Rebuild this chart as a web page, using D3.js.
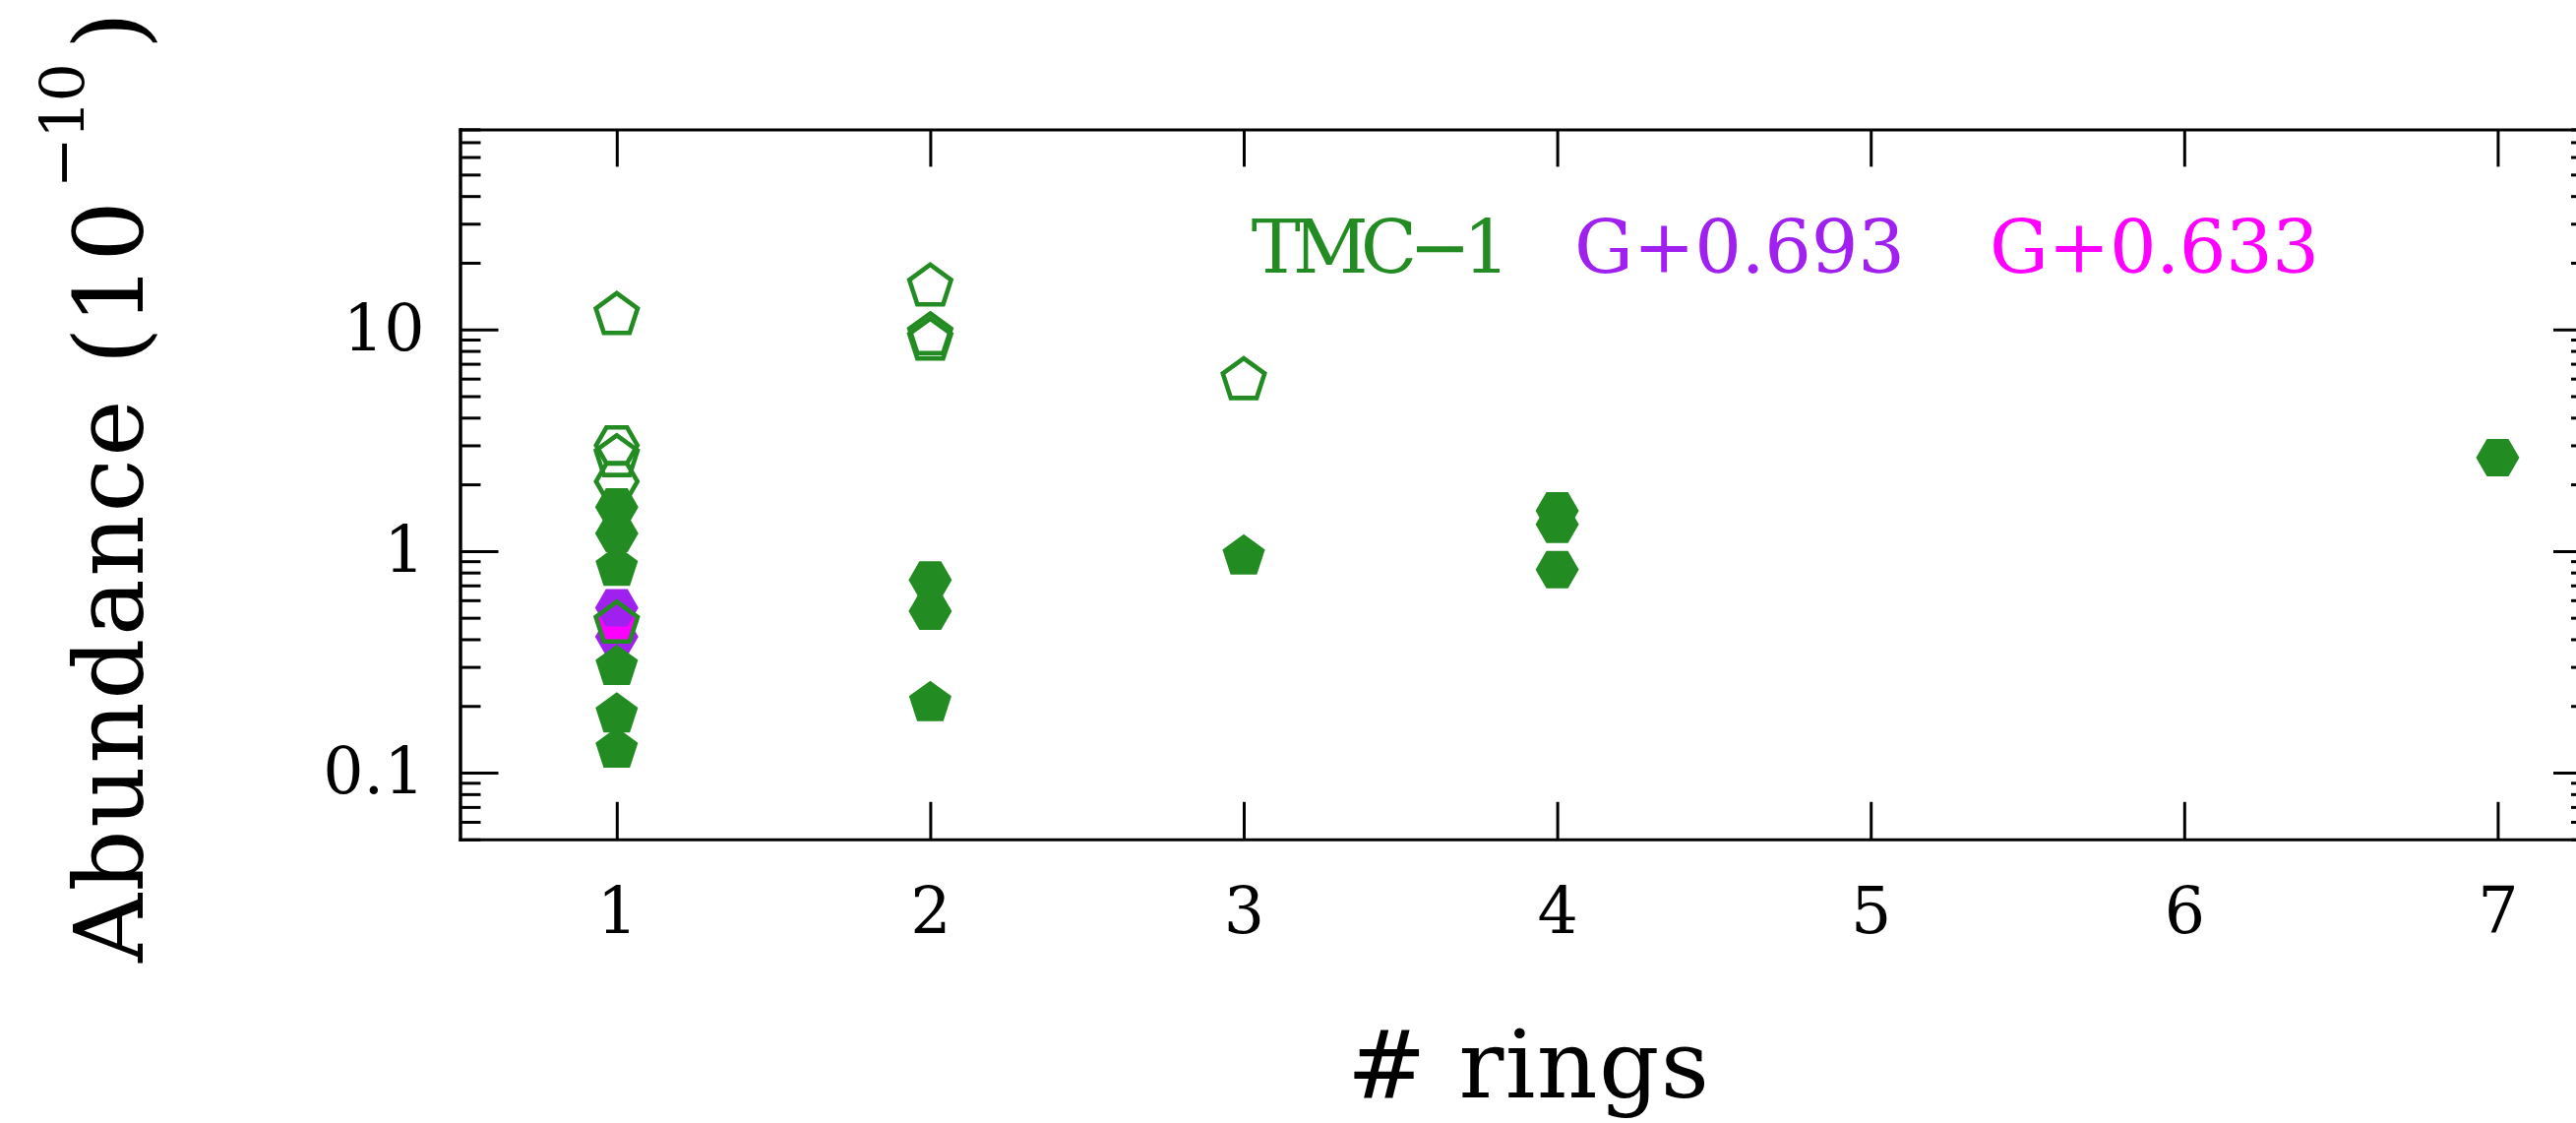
<!DOCTYPE html>
<html>
<head>
<meta charset="utf-8">
<script src="https://cdn.jsdelivr.net/npm/d3@7"></script>
<style>
  html, body { margin: 0; padding: 0; background: #fff; }
  svg { display: block; }
</style>
</head>
<body>
<script>
// ---- data -----------------------------------------------------------
// Number of rings (x axis categories)
const ringTicks = [1, 2, 3, 4, 5, 6, 7];
// Labelled decades of the abundance axis (units of 1e-10)
const abundanceTicks = [0.1, 1, 10];
const abundanceTickLabels = ["0.1", "1", "10"];

// TMC-1, open pentagons
const tmcOpenPentRings  = [1, 1, 1, 2, 2, 2, 3];
const tmcOpenPentValues = [11.6, 2.65, 0.47, 15.6, 9.4, 8.9, 5.9];
// TMC-1, open hexagons
const tmcOpenHexRings  = [1, 1];
const tmcOpenHexValues = [3.0, 2.06];
// TMC-1, filled pentagons
const tmcFillPentRings  = [1, 1, 1, 1, 2, 3];
const tmcFillPentValues = [0.84, 0.30, 0.183, 0.127, 0.206, 0.945];
// TMC-1, filled hexagons
const tmcFillHexRings  = [1, 1, 2, 2, 4, 4, 4, 7];
const tmcFillHexValues = [1.58, 1.2, 0.74, 0.535, 1.52, 1.32, 0.824, 2.64];
// G+0.693, filled hexagons
const g693Rings  = [1, 1];
const g693Values = [0.555, 0.41];
// G+0.633, filled hexagon
const g633Rings  = [1];
const g633Values = [0.48];

const sourceNames  = ["TMC\u22121", "G+0.693", "G+0.633"];
const sourceColors = ["#228B22", "#A020F0", "#FF00FF"];

// ---- layout ---------------------------------------------------------
const W = 2618, H = 1141;
const plot = { left: 467.5, right: 2634, top: 131.4, bottom: 852.8 };
const FONT = "'DejaVu Serif', 'Liberation Serif', serif";

const svg = d3.select("body").append("svg")
  .attr("width", W).attr("height", H)
  .attr("viewBox", `0 0 ${W} ${H}`);
svg.append("rect").attr("width", W).attr("height", H).attr("fill", "#fff");

const x = d3.scaleLinear().domain([0.5, 7.3]).range([plot.left, plot.right]);
const y = d3.scaleLog().domain([0.05, 80]).range([plot.bottom, plot.top]);

const minorTicks = y.ticks().filter(v => !abundanceTicks.some(m => Math.abs(m - v) < 1e-9));

function styleAxis(g, showText) {
  g.attr("font-family", FONT).attr("font-size", 65);
  g.select(".domain").attr("stroke", "#000").attr("stroke-width", 3)
    .attr("stroke-linecap", "square");
  g.selectAll(".tick line").attr("stroke", "#000").attr("stroke-width", 3);
  g.selectAll(".tick text").attr("fill", "#000");
  if (!showText) g.selectAll(".tick text").remove();
}

// left axis: major + minor ticks, pointing inward
svg.append("g").attr("transform", `translate(${plot.left},0)`)
  .call(d3.axisLeft(y).tickValues(abundanceTicks)
    .tickFormat((d, i) => abundanceTickLabels[i])
    .tickSizeInner(-39).tickSizeOuter(0).tickPadding(36))
  .call(g => styleAxis(g, true));
svg.append("g").attr("transform", `translate(${plot.left},0)`)
  .call(d3.axisLeft(y).tickValues(minorTicks).tickFormat("")
    .tickSizeInner(-21).tickSizeOuter(0))
  .call(g => styleAxis(g, false));

// right axis (mirror ticks)
svg.append("g").attr("transform", `translate(${plot.right},0)`)
  .call(d3.axisRight(y).tickValues(abundanceTicks).tickFormat("")
    .tickSizeInner(-39).tickSizeOuter(0))
  .call(g => styleAxis(g, false));
svg.append("g").attr("transform", `translate(${plot.right},0)`)
  .call(d3.axisRight(y).tickValues(minorTicks).tickFormat("")
    .tickSizeInner(-21).tickSizeOuter(0))
  .call(g => styleAxis(g, false));

// bottom and top axes
svg.append("g").attr("transform", `translate(0,${plot.bottom})`)
  .call(d3.axisBottom(x).tickValues(ringTicks).tickFormat(d3.format("d"))
    .tickSizeInner(-38).tickSizeOuter(0).tickPadding(49))
  .call(g => styleAxis(g, true));
svg.append("g").attr("transform", `translate(0,${plot.top})`)
  .call(d3.axisTop(x).tickValues(ringTicks).tickFormat("")
    .tickSizeInner(-38).tickSizeOuter(0))
  .call(g => styleAxis(g, false));

// ---- marker shapes --------------------------------------------------
function polygonSymbol(n, startAngle) {
  return {
    draw(ctx, size) {
      const r = Math.sqrt(size);
      for (let k = 0; k < n; k++) {
        const a = startAngle + k * 2 * Math.PI / n;
        const px = r * Math.cos(a), py = r * Math.sin(a);
        if (k === 0) ctx.moveTo(px, py); else ctx.lineTo(px, py);
      }
      ctx.closePath();
    }
  };
}
const pentagon = polygonSymbol(5, -Math.PI / 2);
const hexagon  = polygonSymbol(6, 0);

function points(rings, values, shape, color, filled) {
  return rings.map((r, i) => ({ ring: r, value: values[i], shape, color, filled }));
}

const R_PENT_FILL = 22.7, R_HEX_FILL = 22, R_PENT_OPEN = 22.3, R_HEX_OPEN = 21;

// the two Galactic Centre sources, lower abundances drawn first
const gcPoints = points(g693Rings, g693Values, hexagon, sourceColors[1], true)
  .concat(points(g633Rings, g633Values, hexagon, sourceColors[2], true))
  .sort((a, b) => a.value - b.value);
const tmcFilled = points(tmcFillPentRings, tmcFillPentValues, pentagon, sourceColors[0], true)
  .concat(points(tmcFillHexRings, tmcFillHexValues, hexagon, sourceColors[0], true));
const tmcOpen = points(tmcOpenPentRings, tmcOpenPentValues, pentagon, sourceColors[0], false)
  .concat(points(tmcOpenHexRings, tmcOpenHexValues, hexagon, sourceColors[0], false));

const allPoints = gcPoints.concat(tmcFilled, tmcOpen);

svg.append("g").selectAll("path").data(allPoints).join("path")
  .attr("transform", d => `translate(${x(d.ring)},${y(d.value)})`)
  .attr("d", d => {
    const r = d.shape === pentagon ? (d.filled ? R_PENT_FILL : R_PENT_OPEN)
                                   : (d.filled ? R_HEX_FILL : R_HEX_OPEN);
    return d3.symbol().type(d.shape).size(r * r)();
  })
  .attr("fill", d => d.filled ? d.color : "none")
  .attr("stroke", d => d.filled ? "none" : d.color)
  .attr("stroke-width", d => d.filled ? 0 : 4.6)
  .attr("stroke-linejoin", "miter");

// ---- source labels --------------------------------------------------
const legendX = [1271.7, 1600, 2022];
const legendLen = [263, 336, 335];
svg.append("g").selectAll("text").data(sourceNames).join("text")
  .attr("x", (d, i) => legendX[i]).attr("y", 276.7)
  .attr("textLength", (d, i) => legendLen[i]).attr("lengthAdjust", "spacing")
  .attr("font-family", FONT).attr("font-size", 75)
  .attr("fill", (d, i) => sourceColors[i])
  .text(d => d);

// ---- axis titles ----------------------------------------------------
svg.append("text")
  .attr("x", 1369).attr("y", 1115)
  .attr("textLength", 368).attr("lengthAdjust", "spacing")
  .attr("font-family", FONT).attr("font-size", 96).attr("fill", "#000")
  .text("# rings");

const yTitle = svg.append("g").attr("transform", "translate(145,978) rotate(-90)")
  .attr("font-family", FONT).attr("fill", "#000");
yTitle.append("text").attr("x", 0).attr("y", 0)
  .attr("font-size", 97).attr("textLength", 774).attr("lengthAdjust", "spacing")
  .text("Abundance (10");
yTitle.append("text").attr("x", 787).attr("y", -60)
  .attr("font-size", 62).attr("textLength", 127).attr("lengthAdjust", "spacing")
  .text("\u221210");
yTitle.append("text").attr("x", 928).attr("y", 0)
  .attr("font-size", 97)
  .text(")");
</script>
</body>
</html>
